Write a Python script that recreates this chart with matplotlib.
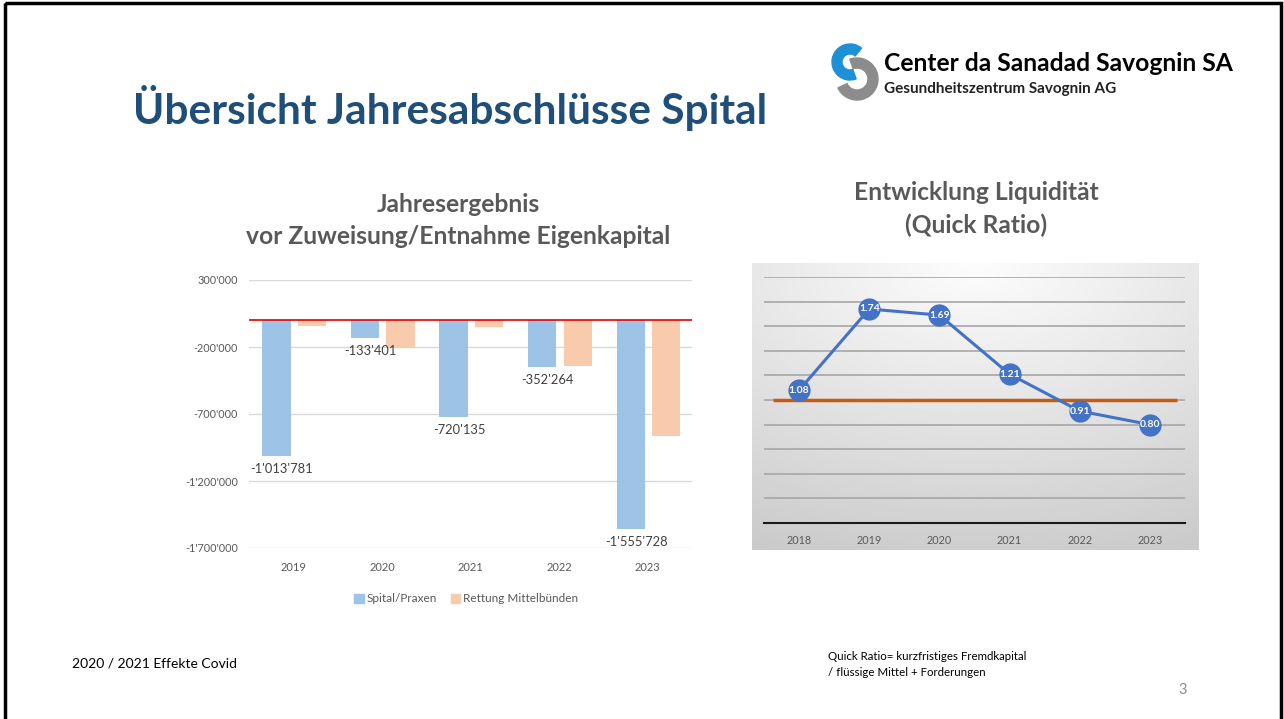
import numpy as np
import matplotlib
matplotlib.use("Agg")
import matplotlib.pyplot as plt
from matplotlib.patches import Wedge, Rectangle, Patch

plt.rcParams['font.family'] = ['Lato', 'DejaVu Sans']

# bar chart data
years_bar = ["2019", "2020", "2021", "2022", "2023"]
spital = [-1013781, -133401, -720135, -352264, -1555728]
rettung = [-45000, -205000, -50000, -341000, -863000]
bar_ticks = [300000, -200000, -700000, -1200000, -1700000]

# line chart data
years_line = ["2018", "2019", "2020", "2021", "2022", "2023"]
quick_ratio = [1.08, 1.74, 1.69, 1.21, 0.91, 0.80]
threshold = 1.0

W, H = 1284, 719
fig = plt.figure(figsize=(W / 100, H / 100), dpi=100)
fig.patch.set_facecolor("white")


def fx(px):
    return px / W


def fy(py):
    return 1 - py / H


def fmt(v):
    return f"{v:,.0f}".replace(",", "'")


# overlay in pixel coords (y down) for slide decorations
deco = fig.add_axes([0, 0, 1, 1])
deco.set_xlim(0, W)
deco.set_ylim(H, 0)
deco.axis("off")
deco.add_patch(Rectangle((5, 3), 1276, 730, fill=False, lw=2.5, ec="black"))

# logo: two arcs forming an S
deco.add_patch(Wedge((857, 79), 21, -110, 155, width=10, color="#8C8C8C"))
deco.add_patch(Wedge((850, 62), 18, 70, 310, width=10, color="#1E90D6"))

deco.text(884, 71, "Center da Sanadad Savognin SA", fontsize=17.7, fontweight="bold",
          color="black", va="baseline")
deco.text(884, 93, "Gesundheitszentrum Savognin AG", fontsize=11, fontweight="bold",
          color="#222222", va="baseline")
deco.text(133, 124, "Übersicht Jahresabschlüsse Spital", fontsize=30.5, fontweight="bold",
          color="#1F4E79", va="baseline")

tkw = dict(fontsize=17.7, fontweight="bold", color="#595959", ha="center", va="center")
deco.text(458, 204, "Jahresergebnis", **tkw)
deco.text(458, 236, "vor Zuweisung/Entnahme Eigenkapital", **tkw)
deco.text(976, 193, "Entwicklung Liquidität", **tkw)
deco.text(976, 225, "(Quick Ratio)", **tkw)

deco.text(72, 663, "2020 / 2021 Effekte Covid", fontsize=10, color="black", va="center")
deco.text(828, 657, "Quick Ratio= kurzfristiges Fremdkapital", fontsize=8.3, color="black", va="center")
deco.text(828, 673, "/ flüssige Mittel + Forderungen", fontsize=8.3, color="black", va="center")
deco.text(1183, 690, "3", fontsize=10.5, color="#8C8C8C", va="center", ha="center")

# ---- bar chart ----
ax = fig.add_axes([fx(249), fy(548), fx(692) - fx(249), fy(280) - fy(548)])
x = np.arange(len(years_bar))
bw = 0.32
ax.bar(x - 0.19, spital, bw, color="#9DC3E6", zorder=3, label="Spital/Praxen")
ax.bar(x + 0.21, rettung, bw, color="#F8CBAD", zorder=3, label="Rettung Mittelbünden")
ax.axhline(0, color="#E00000", lw=1.2, zorder=4)
for xi, v in zip(x, spital):
    ax.annotate(fmt(v), (xi - 0.19, v), xytext=(4, -5), textcoords="offset points",
                ha="center", va="top", fontsize=9.3, color="#404040")
ax.set_xlim(-0.5, len(years_bar) - 0.5)
ax.set_ylim(min(bar_ticks), max(bar_ticks))
ax.set_yticks(bar_ticks)
ax.set_yticklabels([fmt(t) for t in bar_ticks], fontsize=7.8, color="#595959")
ax.set_xticks(x)
ax.set_xticklabels(years_bar, fontsize=8, color="#595959")
ax.tick_params(length=0, pad=10)
ax.tick_params(axis="y", pad=8)
ax.grid(axis="y", color="#D9D9D9", lw=1, zorder=0)
for s in ax.spines.values():
    s.set_visible(False)
ax.legend(handles=[Patch(color="#9DC3E6", label="Spital/Praxen"),
                   Patch(color="#F8CBAD", label="Rettung Mittelbünden")],
          loc="center", bbox_to_anchor=(0.49, -0.19), ncol=2, frameon=False,
          fontsize=8.5, labelcolor="#595959", handlelength=0.8, handleheight=0.8,
          handletextpad=0.2, columnspacing=1.2)

# ---- line chart ----
bg = fig.add_axes([fx(752), fy(550), fx(1198) - fx(752), fy(263) - fy(550)])
gy, gx = np.mgrid[0:1:200j, 0:1:300j]
dist = np.sqrt(((gx - 0.5) * 1.0) ** 2 + ((gy - 0.0) * 1.1) ** 2)
shade = 0.99 - 0.2 * np.clip(dist, 0, 1.2) / 1.2
bg.imshow(shade, cmap="gray", vmin=0, vmax=1, aspect="auto", extent=[0, 1, 1, 0])
bg.axis("off")

lx = fig.add_axes([fx(764), fy(523), fx(1185) - fx(764), fy(277) - fy(523)])
lx.patch.set_alpha(0)
xl = np.arange(len(years_line))
lx.set_xlim(-0.5, len(years_line) - 0.5)
lx.set_ylim(0, 2.0)
lx.set_yticks(np.arange(0, 2.01, 0.2))
lx.grid(axis="y", color="#A6A6A6", lw=1.2, zorder=0)
lx.hlines(threshold, -0.37, len(years_line) - 0.62, color="#C55A11", lw=2.5, zorder=2)
lx.plot(xl, quick_ratio, color="#4472C4", lw=2.2, marker="o", markersize=15, zorder=3)
for xi, v in zip(xl, quick_ratio):
    lx.text(xi, v, f"{v:.2f}", ha="center", va="center", fontsize=7.5, fontweight="bold",
            color="white", zorder=4)
lx.set_xticks(xl)
lx.set_xticklabels(years_line, fontsize=7.8, color="#595959")
lx.tick_params(length=0, pad=9, labelleft=False)
for k, s in lx.spines.items():
    s.set_visible(k == "bottom")
lx.spines["bottom"].set_color("#1a1a1a")
lx.spines["bottom"].set_linewidth(1.5)

fig.savefig("out.png", dpi=100)
